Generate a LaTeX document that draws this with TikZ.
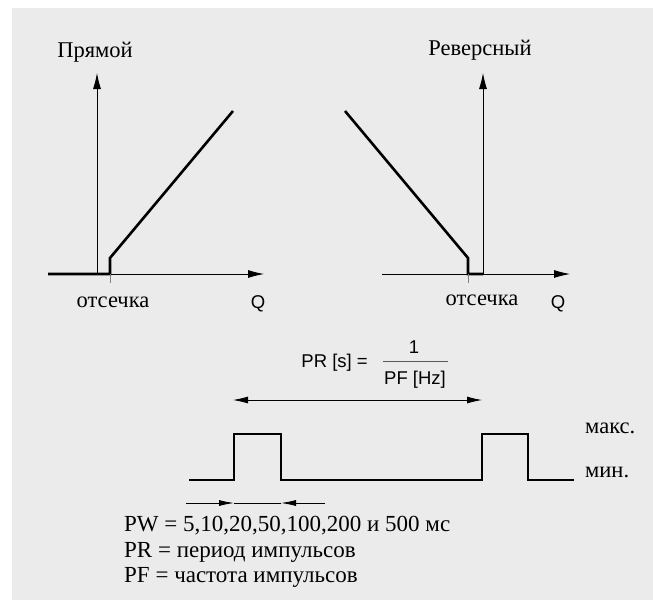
\documentclass[tikz,border=0pt]{standalone}
\usepackage{fontspec}
\setmainfont{Liberation Serif}
\newfontfamily\sansf{Liberation Sans}
\usetikzlibrary{arrows.meta}
\definecolor{bggray}{RGB}{235,235,235}
\begin{document}
\begin{tikzpicture}[x=1pt,y=-1pt,
  axis/.style={line width=0.8pt,-{Latex[length=16pt,width=8pt]}},
  thin/.style={line width=0.8pt},
  heavy/.style={line width=2.6pt,line join=miter,line cap=butt},
  tick/.style={line width=0.5pt,gray},
  lbl/.style={font=\fontsize{22.5}{26}\selectfont,inner sep=0pt},
  txt/.style={font=\fontsize{23}{26}\selectfont,inner sep=0pt},
  slbl/.style={font=\sansf\fontsize{18.5}{22}\selectfont,inner sep=0pt},
  dimarrow/.style={line width=0.8pt,{Latex[length=15pt,width=7pt]}-{Latex[length=15pt,width=7pt]}},
  inarrow/.style={line width=0.8pt,-{Latex[length=15pt,width=6pt]}}]
\useasboundingbox[fill=white] (0,0) rectangle (653,600);
\fill[bggray] (12,8) rectangle (653,600);
% ---- left graph
\coordinate (LO) at (97,274);
\coordinate (LYtop) at (97,73);
\coordinate (LXl) at (48,274);
\coordinate (LXr) at (264,274);
\coordinate (LC) at (110,274);
\coordinate (LK) at (110,258);
\coordinate (LE) at (233,111);
\coordinate (LT) at (110,283);
\draw[axis] (LO) -- (LYtop);
\draw[axis] (LXl) -- (LXr);
\draw[heavy] (LXl) -- (LC) -- (LK) -- (LE);
\draw[tick] (LC) -- (LT);
\node[lbl] (pr) at (95,52) {Прямой};
\node[lbl] (ot1) at (113,302) {отсечка};
\node[slbl] (q1) at (258,304) {Q};
% ---- right graph
\coordinate (RO) at (483,274);
\coordinate (RYtop) at (483,73);
\coordinate (RXl) at (382,274);
\coordinate (RXr) at (570,274);
\coordinate (RC) at (468,274);
\coordinate (RK) at (468,258);
\coordinate (RE) at (345,111);
\coordinate (RT) at (468,283);
\draw[axis] (RO) -- (RYtop);
\draw[axis] (RXl) -- (RXr);
\draw[heavy] (RO) -- (RC) -- (RK) -- (RE);
\draw[tick] (RC) -- (RT);
\node[lbl] (rev) at (480,50) {Реверсный};
\node[lbl] (ot2) at (482,300) {отсечка};
\node[slbl] (q2) at (558,304) {Q};
% ---- formula
\node[slbl,anchor=east] (prs) at (368,363) {PR [s] =};
\node[slbl] (one) at (414,347) {1};
\node[slbl] (pfhz) at (415,380) {PF [Hz]};
\coordinate (barL) at (383,361);
\coordinate (barR) at (448,361);
\draw[line width=0.6pt,gray!70!black] (barL) -- (barR);
% ---- period arrow
\coordinate (PA) at (233,400);
\coordinate (PB) at (482,400);
\draw[dimarrow] (PA) -- (PB);
% ---- pulse train
\coordinate (p0) at (189,480);
\coordinate (p1) at (234,480);
\coordinate (p2) at (234,434);
\coordinate (p3) at (281,434);
\coordinate (p4) at (281,480);
\coordinate (p5) at (482,480);
\coordinate (p6) at (482,434);
\coordinate (p7) at (528,434);
\coordinate (p8) at (528,480);
\coordinate (p9) at (574,480);
\draw[heavy] (p0) -- (p1) -- (p2) -- (p3) -- (p4) -- (p5) -- (p6) -- (p7) -- (p8) -- (p9);
\node[lbl,anchor=west] (max) at (585,428) {макс.};
\node[lbl,anchor=west] (min) at (585,472) {мин.};
% ---- pulse width arrows
\coordinate (wL0) at (186,503);
\coordinate (wL1) at (234,503);
\coordinate (wR0) at (325,503);
\coordinate (wR1) at (281,503);
\draw[inarrow] (wL0) -- (wL1);
\draw[inarrow] (wR0) -- (wR1);
\draw[thin] (wL1) -- (wR1);
% ---- legend
\node[txt,anchor=west] (t1) at (124,526) {PW = 5,10,20,50,100,200 и 500 мс};
\node[txt,anchor=west] (t2) at (124,552) {PR = период импульсов};
\node[txt,anchor=west] (t3) at (124,577) {PF = частота импульсов};
\end{tikzpicture}
\end{document}
